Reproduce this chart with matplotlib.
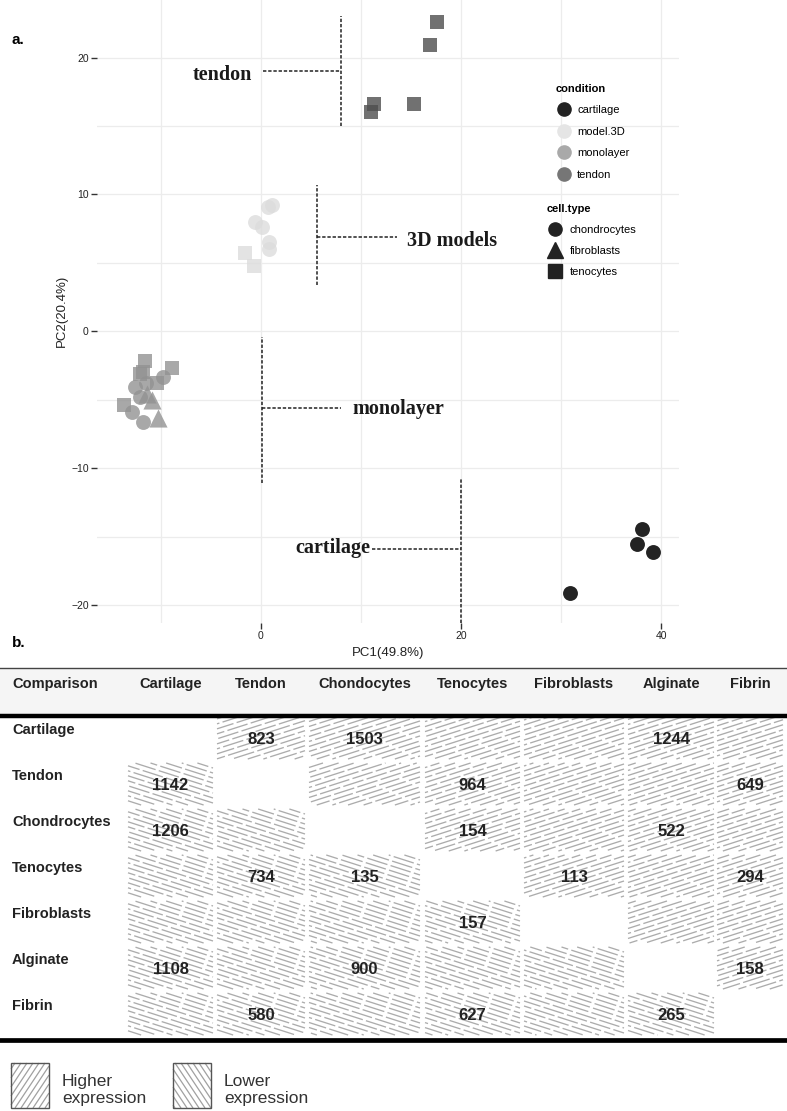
import matplotlib
matplotlib.use('Agg')
import matplotlib.pyplot as plt
import numpy as np
from matplotlib.lines import Line2D
from matplotlib.patches import Rectangle
from matplotlib.collections import LineCollection

plt.rcParams['font.family'] = ['Liberation Sans', 'DejaVu Sans']

# ---- panel a: PCA scores ----
cartilage_chondro_x = [38.1, 37.6, 39.2, 30.9]
cartilage_chondro_y = [-14.4, -15.5, -16.1, -19.1]

tendon_teno_x = [17.6, 16.9, 11.3, 11.0, 15.3]
tendon_teno_y = [22.6, 20.9, 16.6, 16.0, 16.6]

model3d_chondro_x = [0.7, 1.1, -0.6, 0.1, 0.8, 0.8]
model3d_chondro_y = [9.1, 9.2, 8.0, 7.6, 6.5, 6.0]
model3d_teno_x = [-1.6, -0.7]
model3d_teno_y = [5.7, 4.8]

mono_chondro_x = [-9.8, -12.6, -12.1, -12.9, -11.8, -11.5]
mono_chondro_y = [-3.3, -4.1, -4.8, -5.9, -6.6, -3.8]
mono_teno_x = [-11.6, -8.9, -12.1, -10.4, -13.7, -11.8]
mono_teno_y = [-2.2, -2.7, -3.1, -3.8, -5.4, -3.0]
mono_fibro_x = [-11.4, -10.9, -10.3]
mono_fibro_y = [-4.6, -5.0, -6.3]

conditions = ['cartilage', 'model.3D', 'monolayer', 'tendon']
cell_types = ['chondrocytes', 'fibroblasts', 'tenocytes']

# label, vline x, vline y0, vline y1, hline y, hline x0, hline x1, text x, text y, align
annotations = [
    ('tendon', 8.0, 15.0, 23.0, 19.0, 0.2, 8.0, -0.9, 18.7, 'right'),
    ('3D models', 5.6, 3.4, 10.7, 6.9, 5.6, 13.6, 14.6, 6.6, 'left'),
    ('monolayer', 0.1, -11.1, -0.4, -5.6, 0.1, 8.0, 9.1, -5.7, 'left'),
    ('cartilage', 20.0, -21.3, -10.7, -15.9, 11.1, 20.0, 10.9, -15.8, 'right'),
]

# ---- panel b: DE gene counts ----
groups = ['Cartilage', 'Tendon', 'Chondocytes', 'Tenocytes', 'Fibroblasts', 'Alginate', 'Fibrin']
row_names = ['Cartilage', 'Tendon', 'Chondrocytes', 'Tenocytes', 'Fibroblasts', 'Alginate', 'Fibrin']
de_counts = [
    [None, 823, 1503, None, None, 1244, None],
    [1142, None, None, 964, None, None, 649],
    [1206, None, None, 154, None, 522, None],
    [None, 734, 135, None, 113, None, 294],
    [None, None, None, 157, None, None, None],
    [1108, None, 900, None, None, None, 158],
    [None, 580, None, 627, None, 265, None],
]

fig = plt.figure(figsize=(7.87, 11.11), dpi=100)
W, H = 787.0, 1111.0

# background axes in pixel units for the table and labels
ax_t = fig.add_axes([0, 0, 1, 1], zorder=0)
ax_t.set_xlim(0, W)
ax_t.set_ylim(H, 0)
ax_t.axis('off')

ax = fig.add_axes([97 / W, 1 - 623 / H, 582 / W, 623 / H], zorder=1)
ax.set_xlim(-16.4, 41.8)
ax.set_ylim(-21.3, 24.2)

cond_col = {'cartilage': '#232323', 'model.3D': '#dcdcdc', 'monolayer': '#929292', 'tendon': '#4e4e4e'}
ax.scatter(cartilage_chondro_x, cartilage_chondro_y, s=115, marker='o', c=cond_col['cartilage'], lw=0, zorder=3)
ax.scatter(tendon_teno_x, tendon_teno_y, s=100, marker='s', c=cond_col['tendon'], alpha=0.8, lw=0, zorder=3)
ax.scatter(model3d_chondro_x, model3d_chondro_y, s=115, marker='o', c=cond_col['model.3D'], alpha=0.8, lw=0, zorder=3)
ax.scatter(model3d_teno_x, model3d_teno_y, s=100, marker='s', c=cond_col['model.3D'], alpha=0.8, lw=0, zorder=3)
ax.scatter(mono_chondro_x, mono_chondro_y, s=115, marker='o', c=cond_col['monolayer'], alpha=0.8, lw=0, zorder=3)
ax.scatter(mono_teno_x, mono_teno_y, s=100, marker='s', c=cond_col['monolayer'], alpha=0.8, lw=0, zorder=3)
ax.scatter(mono_fibro_x, mono_fibro_y, s=170, marker='^', c=cond_col['monolayer'], alpha=0.8, lw=0, zorder=3)

for lab, vx, vy0, vy1, hy, hx0, hx1, tx, ty, ha in annotations:
    ax.plot([vx, vx], [vy0, vy1], ls=(0, (2.2, 1.2)), color='#222222', lw=1.1, zorder=2, clip_on=False)
    ax.plot([hx0, hx1], [hy, hy], ls=(0, (2.2, 1.2)), color='#222222', lw=1.1, zorder=2)
    ax.text(tx, ty, lab, ha=ha, va='center', fontsize=14.5, fontweight='bold',
            family=['Liberation Serif', 'DejaVu Serif'], color='#1a1a1a', zorder=4)

ax.set_xticks([0, 20, 40])
ax.set_xticks([-10, 10, 30], minor=True)
ax.set_yticks([-20, -10, 0, 10, 20])
ax.set_yticks([-15, -5, 5, 15], minor=True)
ax.grid(True, which='both', color='#ececec', lw=0.9, zorder=0)
for s in ax.spines.values():
    s.set_visible(False)
ax.tick_params(which='major', length=4, width=1, color='#333333', labelsize=7.5, labelcolor='#222222', pad=2)
ax.tick_params(which='minor', length=0)

cond_leg = {'cartilage': '#222222', 'model.3D': '#e5e5e5', 'monolayer': '#a9a9a9', 'tendon': '#767676'}
h1 = [Line2D([], [], marker='o', ls='', color=cond_leg[c], markersize=9.5, label=c) for c in conditions]
leg1 = ax.legend(handles=h1, title='condition', loc='upper left', bbox_to_anchor=(550 / W, 1 - 78 / H),
                 bbox_transform=fig.transFigure, frameon=False, fontsize=8,
                 title_fontproperties={'weight': 'bold', 'size': 8}, alignment='left',
                 handletextpad=0.35, labelspacing=1.04, borderpad=0, handlelength=1.6)
ax.add_artist(leg1)
ct_marker = {'chondrocytes': 'o', 'fibroblasts': '^', 'tenocytes': 's'}
h2 = [Line2D([], [], marker=ct_marker[c], ls='', color='#222222',
             markersize=11 if c == 'fibroblasts' else 9.5, label=c) for c in cell_types]
ax.legend(handles=h2, title='cell.type', loc='upper left', bbox_to_anchor=(541 / W, 1 - 198 / H),
          bbox_transform=fig.transFigure, frameon=False, fontsize=8,
          title_fontproperties={'weight': 'bold', 'size': 8}, alignment='left',
          handletextpad=0.45, labelspacing=1.0, borderpad=0, handlelength=1.6)

fig.text(62 / W, 1 - 311 / H, 'PC2(20.4%)', rotation=90, ha='center', va='center', fontsize=9.5, color='#222222')
fig.text(388 / W, 1 - 653 / H, 'PC1(49.8%)', ha='center', va='center', fontsize=9.5, color='#222222')
fig.text(12 / W, 1 - 40 / H, 'a.', ha='left', va='center', fontsize=11, fontweight='bold')
fig.text(12 / W, 1 - 643 / H, 'b.', ha='left', va='center', fontsize=11, fontweight='bold')

# ---- table ----
col_edges = [(128, 213), (217, 305), (309, 420), (425, 520), (524, 624), (628, 714), (717, 783)]
row_top, row_step, row_h = 717, 46, 42


def hatch_box(x0, y0, w, h, rising, slope, gap, color, lw, dash=None, zorder=1):
    # hatch lines clipped to the box by hand (y grows downwards here)
    b = -slope if rising else slope
    span = slope * w
    segs, styles = [], []
    for i, a in enumerate(np.arange(y0 - span, y0 + h + span + gap, gap)):
        t1 = (y0 - a) / b
        t2 = (y0 + h - a) / b
        lo = max(0.0, min(t1, t2))
        hi = min(w, max(t1, t2))
        if hi - lo < 0.5:
            continue
        segs.append([(x0 + lo, a + b * lo), (x0 + hi, a + b * hi)])
        if dash is not None:
            styles.append(((i * 7.3) % sum(dash), dash))
    lc = LineCollection(segs, colors=color, linewidths=lw, zorder=zorder,
                        linestyles=styles if dash is not None else 'solid')
    ax_t.add_collection(lc)


ax_t.add_patch(Rectangle((0, 668), W, 46, color='#f5f5f5', lw=0, zorder=0))
ax_t.plot([0, W], [667.5, 667.5], color='#444444', lw=1.0, zorder=2)
ax_t.plot([0, W], [715.5, 715.5], color='#000000', lw=3.2, zorder=2)
ax_t.plot([0, W], [1040, 1040], color='#000000', lw=3.4, zorder=2)

ax_t.text(12, 684, 'Comparison', ha='left', va='center', fontsize=10.5, fontweight='bold', color='#222222')
for j, g in enumerate(groups):
    xc = (col_edges[j][0] + col_edges[j][1]) / 2
    ax_t.text(xc, 684, g, ha='center', va='center', fontsize=10.5, fontweight='bold', color='#222222')

for i, rn in enumerate(row_names):
    y0 = row_top + i * row_step
    ax_t.text(12, y0 + 13, rn, ha='left', va='center', fontsize=10.5, fontweight='bold', color='#222222')
    for j in range(len(groups)):
        if i == j:
            continue
        x0, x1 = col_edges[j]
        hatch_box(x0, y0, x1 - x0, row_h, rising=(j > i), slope=0.32, gap=5.0,
                  color='#acacac', lw=0.95, dash=(16, 2.5))
        v = de_counts[i][j]
        if v is not None:
            ax_t.text((x0 + x1) / 2, y0 + row_h / 2 + 2, str(v), ha='center', va='center',
                      fontsize=12, fontweight='bold', color='#222222', zorder=3)

# ---- key ----
for k, (lab, rising) in enumerate([('Higher\nexpression', True), ('Lower\nexpression', False)]):
    bx = 11 + k * 162
    hatch_box(bx, 1063, 38, 45, rising=rising, slope=1.5, gap=9.0, color='#a0a0a0', lw=0.9)
    ax_t.add_patch(Rectangle((bx, 1063), 38, 45, fill=False, ec='#555555', lw=1.0, zorder=3))
    ax_t.text(bx + 51, 1090, lab, ha='left', va='center', fontsize=12.5, color='#333333', linespacing=1.2)

fig.savefig('out.png', dpi=100)
